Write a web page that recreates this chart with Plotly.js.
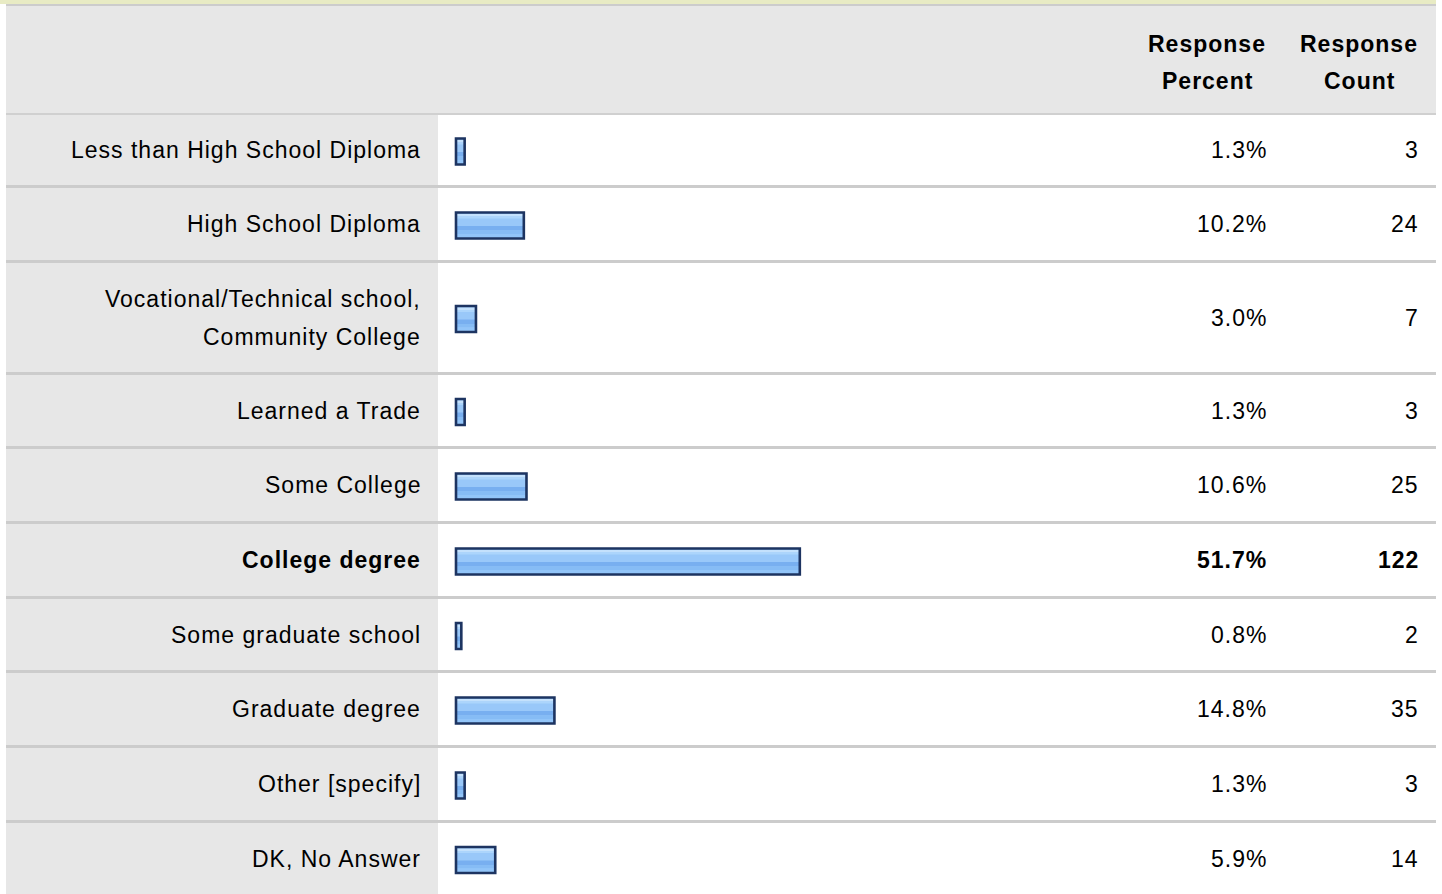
<!DOCTYPE html>
<html>
<head>
<meta charset="utf-8">
<script src="https://cdn.plot.ly/plotly-3.0.1.min.js"></script>
<style>
html, body { margin: 0; padding: 0; background: #ffffff; }
#chart { width: 1442px; height: 894px; }
text { letter-spacing: 1px; }
</style>
</head>
<body>
<div id="chart"></div>
<script>
// ---------- DATA ----------
const categories = [
  "Less than High School Diploma",
  "High School Diploma",
  "Vocational/Technical school,<br>Community College",
  "Learned a Trade",
  "Some College",
  "College degree",
  "Some graduate school",
  "Graduate degree",
  "Other [specify]",
  "DK, No Answer"
];
const responsePercent = [1.3, 10.2, 3.0, 1.3, 10.6, 51.7, 0.8, 14.8, 1.3, 5.9];
const responseCount = [3, 24, 7, 3, 25, 122, 2, 35, 3, 14];
const columnHeaders = ["Response<br>Percent", "Response<br>Count"];

// ---------- LAYOUT / STYLE ----------
const W = 1442, H = 894;
const rowHeights = [70, 72, 109, 71, 72, 72, 71, 72, 72, 71];
const sepH = 3;
const headerBottom = 115;
const tableLeft = 6, tableRight = 1436, labelColRight = 438;
const zeroPx = 456, pxPerPct = 6.65;
const FONT = "Liberation Sans, Arial, Helvetica, sans-serif";
const FSIZE = 23;
const TXT = "#000000";

const px = v => v / W;
const py = v => 1 - v / H;

// row geometry
const rowTop = [], rowCenter = [], barCenter = [];
let t = headerBottom;
rowHeights.forEach((h, i) => {
  rowTop.push(t);
  rowCenter.push(t + h / 2);
  barCenter.push(t + h / 2 + 1.5);
  t += h + sepH;
});

const shapes = [];
function rect(x0, y0, x1, y1, color) {
  shapes.push({type: "rect", xref: "paper", yref: "paper", layer: "below",
    x0: px(x0), x1: px(x1), y0: py(y1), y1: py(y0),
    fillcolor: color, line: {width: 0}});
}
// top strip + header
rect(0, 0, tableRight, 4, "#e8ebc4");
rect(tableLeft, 4, tableRight, 6, "#cccccc");
rect(tableLeft, 6, tableRight, 113, "#e7e7e7");
rect(tableLeft, 113, tableRight, 115, "#d0d0d0");
// rows
rowHeights.forEach((h, i) => {
  rect(tableLeft, rowTop[i], labelColRight, rowTop[i] + h, "#e7e7e7");
  if (i < rowHeights.length - 1) {
    rect(tableLeft, rowTop[i] + h, tableRight, rowTop[i] + h + sepH, "#cccccc");
  }
});

const maxIdx = responsePercent.indexOf(Math.max(...responsePercent));
const annotations = [];
function ann(text, xPx, yPx, anchor, bold) {
  annotations.push({
    text: bold ? "<b>" + text + "</b>" : text,
    xref: "paper", yref: "y", x: px(xPx), y: yPx,
    xanchor: anchor, yanchor: "middle", align: anchor === "center" ? "center" : "right",
    showarrow: false, font: {family: FONT, size: FSIZE, color: TXT}
  });
}
// headers
const headerX = [1207, 1359];
columnHeaders.forEach((hdr, c) => {
  hdr.split("<br>").forEach((line, k) => ann(line, headerX[c], 44 + k * 37, "center", true));
});
// rows
categories.forEach((cat, i) => {
  const lines = cat.split("<br>");
  const lineGap = 38;
  lines.forEach((line, k) => {
    const y = rowCenter[i] + (k - (lines.length - 1) / 2) * lineGap;
    ann(line, 423, y, "right", i === maxIdx);
  });
  ann(responsePercent[i].toFixed(1) + "%", 1268.5, rowCenter[i], "right", i === maxIdx);
  ann(String(responseCount[i]), 1420.5, rowCenter[i], "right", i === maxIdx);
});

// ---------- BARS ----------
function barTrace(color, offset, width, line) {
  return {
    type: "bar", orientation: "h",
    x: responsePercent, y: barCenter, base: 0,
    width: width, offset: offset,
    marker: {color: color, line: line || {width: 0}},
    hoverinfo: "skip", showlegend: false
  };
}
const traces = [
  barTrace("#99c8f9", -13, 26),
  barTrace("#c4e1fc", -11.5, 2.5),
  barTrace("#acd5fc", -9, 2),
  barTrace("#78aff0", 0.5, 4.5),
  barTrace("#86bcf5", 5, 3.5),
  barTrace("#92c5f9", 8.5, 3),
  barTrace("rgba(0,0,0,0)", -13, 26, {color: "#1d3461", width: 2.6})
];

const layout = {
  width: W, height: H,
  margin: {l: 0, r: 0, t: 0, b: 0, pad: 0},
  paper_bgcolor: "#ffffff", plot_bgcolor: "rgba(0,0,0,0)",
  barmode: "overlay",
  xaxis: {domain: [0, 1], range: [-zeroPx / pxPerPct, (W - zeroPx) / pxPerPct],
    visible: false, fixedrange: true},
  yaxis: {domain: [0, 1], range: [H, 0], visible: false, fixedrange: true},
  shapes: shapes,
  annotations: annotations,
  showlegend: false
};

Plotly.newPlot("chart", traces, layout, {staticPlot: true, displayModeBar: false});
</script>
</body>
</html>
